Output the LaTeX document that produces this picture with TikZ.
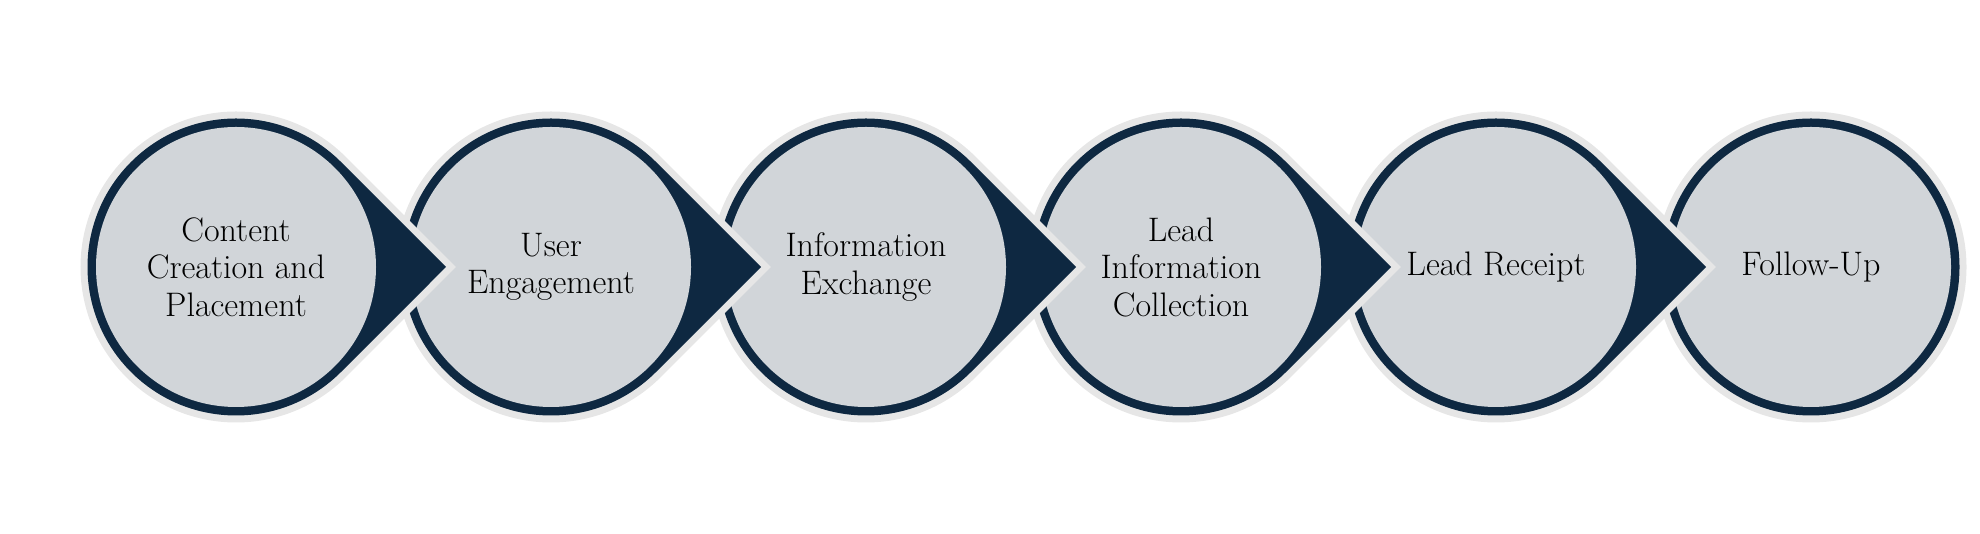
\documentclass[tikz,border=0pt]{standalone}
\usepackage{fontspec}
\usepackage{tikz}
\usetikzlibrary{positioning,calc,backgrounds}
\definecolor{navy}{HTML}{0E2841}
\definecolor{halogray}{HTML}{E6E6E6}
\definecolor{fillgray}{HTML}{D1D5D9}

\begin{document}
\begin{tikzpicture}[node distance=315pt,on grid]
\tikzstyle{stepnode} = [circle,minimum size=280pt,inner sep=0pt,align=center,font=\fontsize{34}{37.5}\selectfont]
\tikzstyle{drop} = [fill=navy,preaction={draw=halogray,line width=14pt,line join=miter}]
    \useasboundingbox (0pt,0pt) rectangle (1980pt,534pt);
    \node[stepnode] (s1) at (236pt,267pt) {Content\\Creation and\\Placement};
    \node[stepnode] (s2) [right =of s1] {User\\Engagement};
    \node[stepnode] (s3) [right =of s2] {Information\\Exchange};
    \node[stepnode] (s4) [right =of s3] {Lead\\Information\\Collection};
    \node[stepnode] (s5) [right =of s4] {Lead Receipt};
    \node[stepnode] (s6) [right =of s5] {Follow-Up};

    \begin{pgfonlayer}{background}
    \path[drop] (s6.center) circle [radius=148.5pt];
    \fill[fillgray] (s6.center) circle [radius=140pt];
    \foreach \i in {5,4,3,2,1} {
      \path[drop] ($(s\i.center)+(45:148.5pt)$) arc [start angle=45,end angle=315,radius=148.5pt]
        -- ($(s\i.center)+(210pt,0pt)$) -- cycle;
      \fill[fillgray] (s\i.center) circle [radius=140pt];
    }
    \end{pgfonlayer}
\end{tikzpicture}
\end{document}
